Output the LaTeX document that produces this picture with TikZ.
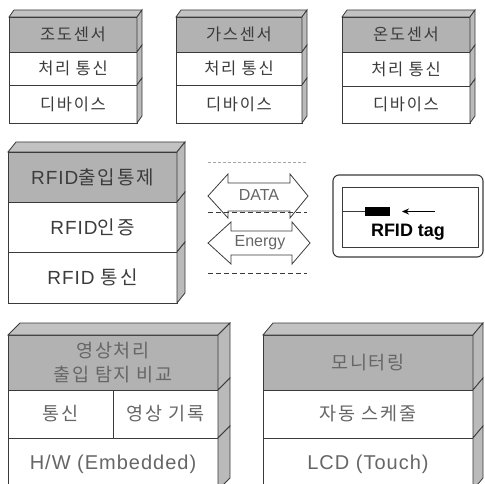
\documentclass[tikz,border=0pt]{standalone}
\usepackage{fontspec}
\setmainfont{Liberation Sans}
\newfontfamily\krfont{Noto Sans CJK KR}[LetterSpace=10]
\newfontfamily\latfont{Liberation Sans}[LetterSpace=5]
\usetikzlibrary{calc,arrows.meta}
\definecolor{edge}{HTML}{3A3A3A}
\definecolor{hdrgray}{HTML}{B2B2B2}
\definecolor{topgray}{HTML}{C2C2C2}
\definecolor{sidegray}{HTML}{BABABA}
\definecolor{txt}{HTML}{3C3C3C}
\definecolor{txtlight}{HTML}{666666}
\newcommand\kfTop{\krfont\fontsize{16.5}{19}\selectfont}
\newcommand\kfMid{\krfont\fontsize{19}{22}\selectfont}
\newcommand\lfMid{\latfont\fontsize{19}{22}\selectfont}
\newcommand\kfBot{\krfont\fontsize{18.5}{24}\selectfont}
\newcommand\lfBot{\latfont\fontsize{20}{24}\selectfont}
\newcommand\mkside[3]{\filldraw[sideface] (#1.north east) -- ++(#2,#3) -- ($(#1.south east)+(#2,#3)$) -- (#1.south east) -- cycle;}
\newcommand\mktop[4]{\filldraw[topface] (#1.north west) -- ++(#3,#4) -- ($(#2.north east)+(#3,#4)$) -- (#2.north east) -- cycle;}
\begin{document}
\begin{tikzpicture}[x=1pt,y=-1pt,
  face/.style={draw=edge, line width=0.8pt, inner sep=0pt, outer sep=0pt, anchor=north west, text=txt, align=center},
  hdr/.style={face, fill=hdrgray},
  cell/.style={face, fill=white},
  topface/.style={draw=edge, line width=0.8pt, fill=topgray},
  sideface/.style={draw=edge, line width=0.8pt, fill=sidegray},
  dotline/.style={draw=gray!70, line width=1pt, dash pattern=on 3pt off 2pt},
  dashline/.style={draw=edge, line width=0.8pt, dash pattern=on 5pt off 3pt},
  bigarrow/.style={draw=edge, line width=0.8pt, fill=white},
  arrowtext/.style={text=txtlight, font=\fontsize{16}{18}\selectfont, inner sep=0pt}
]
\useasboundingbox (0,0) rectangle (485,484);
\clip (0,0) rectangle (485,484);

% ---------- top stacks ----------
\node[hdr, minimum width=128pt, minimum height=35pt] (aH) at (9,17) {\kfTop 조도센서};
\node[cell, minimum width=128pt, minimum height=33pt] (aP) at (aH.south west) {\kfTop 처리 통신};
\node[cell, minimum width=128pt, minimum height=38pt] (aD) at (aP.south west) {\kfTop 디바이스};
\mktop{aH}{aH}{5}{-7}
\mkside{aH}{5}{-7}\mkside{aP}{5}{-7}\mkside{aD}{5}{-7}

\node[hdr, minimum width=126pt, minimum height=35pt] (bH) at (176,17) {\kfTop 가스센서};
\node[cell, minimum width=126pt, minimum height=33pt] (bP) at (bH.south west) {\kfTop 처리 통신};
\node[cell, minimum width=126pt, minimum height=38pt] (bD) at (bP.south west) {\kfTop 디바이스};
\mktop{bH}{bH}{5}{-7}
\mkside{bH}{5}{-7}\mkside{bP}{5}{-7}\mkside{bD}{5}{-7}

\node[hdr, minimum width=128pt, minimum height=35pt] (cH) at (342,17) {\kfTop 온도센서};
\node[cell, minimum width=128pt, minimum height=34pt] (cP) at (cH.south west) {\kfTop 처리 통신};
\node[cell, minimum width=128pt, minimum height=37pt] (cD) at (cP.south west) {\kfTop 디바이스};
\mktop{cH}{cH}{5}{-7}
\mkside{cH}{5}{-7}\mkside{cP}{5}{-7}\mkside{cD}{5}{-7}

% ---------- RFID stack ----------
\node[hdr, minimum width=169pt, minimum height=50pt] (rH) at (8,152) {\lfMid RFID\kfMid 출입통제};
\node[cell, minimum width=169pt, minimum height=50pt] (rA) at (rH.south west) {\lfMid RFID\kfMid 인증};
\node[cell, minimum width=169pt, minimum height=51pt] (rC) at (rA.south west) {\lfMid RFID \kfMid 통신};
\mktop{rH}{rH}{8}{-10}
\mkside{rH}{8}{-10}\mkside{rA}{8}{-10}\mkside{rC}{8}{-10}

% ---------- middle arrows ----------
\coordinate (d1a) at (208,163); \coordinate (d1b) at (307,163);
\coordinate (d2a) at (208,212); \coordinate (d2b) at (307,212);
\coordinate (d3a) at (208,273); \coordinate (d3b) at (307,273);
\draw[dotline] (d1a) -- (d1b);
\filldraw[bigarrow] (208,196) -- (228,174) -- (228,183) -- (290,183) -- (290,174) -- (308,196)
  -- (290,218) -- (290,211) -- (228,211) -- (228,218) -- cycle;
\node[arrowtext] (data) at (259,195) {DATA};
\filldraw[bigarrow] (208,243) -- (231,222) -- (231,231) -- (292,231) -- (292,222) -- (310,243)
  -- (292,264) -- (292,255) -- (231,255) -- (231,264) -- cycle;
\node[arrowtext] (energy) at (260,243) {Energy};
\draw[dashline] (d2a) -- (d2b);
\draw[dashline] (d3a) -- (d3b);

% ---------- RFID tag ----------
\node[draw=edge, line width=1.1pt, rounded corners=6pt, minimum width=150pt, minimum height=82pt, inner sep=0pt] (tagouter) at (408,216) {};
\node[draw=edge, line width=0.8pt, minimum width=136pt, minimum height=60pt, inner sep=0pt] (taginner) at (410,217) {};
\node[fill=black, minimum width=25pt, minimum height=9pt, inner sep=0pt] (chip) at (377.5,211.5) {};
\draw[edge, line width=0.8pt] (taginner.west |- chip.west) -- (chip.west);
\coordinate (arrtail) at (435,211.5);
\coordinate (arrtip) at (402,211.5);
\draw[black, line width=0.8pt, -{Stealth[length=7pt,width=6pt]}] (arrtail) -- (arrtip);
\node[font=\bfseries\fontsize{18}{20}\selectfont, inner sep=0pt] (taglabel) at (408,232) {RFID tag};

% ---------- bottom left stack ----------
\node[hdr, minimum width=210pt, minimum height=55pt, text=txtlight, font=\kfBot] (eH) at (8,335) {영상처리\\출입 탐지 비교};
\node[cell, minimum width=105pt, minimum height=48pt, text=txtlight] (eC) at (eH.south west) {\kfBot 통신};
\node[cell, minimum width=105pt, minimum height=48pt, text=txtlight] (eV) at (eC.north east) {\kfBot 영상 기록};
\node[cell, minimum width=210pt, minimum height=52pt, text=txtlight] (eW) at (eC.south west) {\lfBot H/W (Embedded)};
\mktop{eH}{eH}{12}{-12}
\mkside{eH}{12}{-12}\mkside{eV}{12}{-12}\mkside{eW}{12}{-12}

% ---------- bottom right stack ----------
\node[hdr, minimum width=210pt, minimum height=55pt, text=txtlight] (mH) at (263,335) {\kfBot 모니터링};
\node[cell, minimum width=210pt, minimum height=48pt, text=txtlight] (mS) at (mH.south west) {\kfBot 자동 스케줄};
\node[cell, minimum width=210pt, minimum height=52pt, text=txtlight] (mL) at (mS.south west) {\lfBot LCD (Touch)};
\mktop{mH}{mH}{10}{-12}
\mkside{mH}{10}{-12}\mkside{mS}{10}{-12}\mkside{mL}{10}{-12}
\end{tikzpicture}
\end{document}
